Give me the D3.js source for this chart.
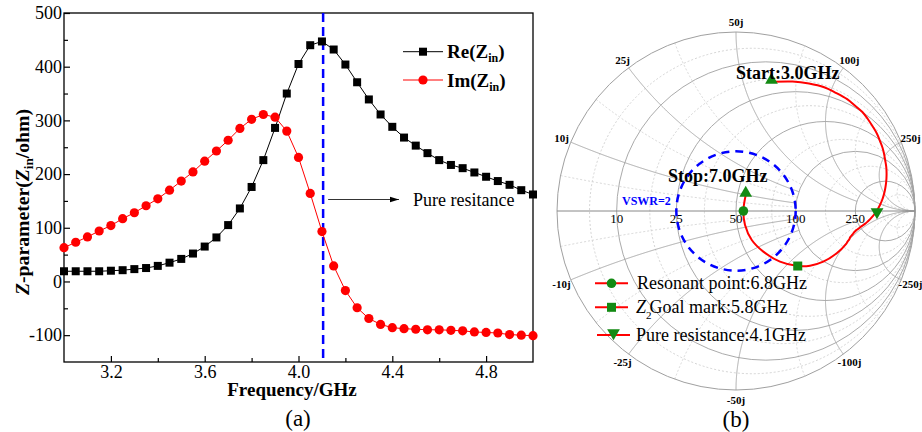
<!DOCTYPE html>
<html>
<head>
<meta charset="utf-8">
<script src="https://cdn.jsdelivr.net/npm/d3@7"></script>
<style>
  body { margin: 0; background: #fff; }
  svg { display: block; }
  svg text { font-family: "Liberation Serif", "Times New Roman", serif; }
</style>
</head>
<body>
<div id="main"></div>
<script>
// ---------------- data -----------------//

// (a) input impedance, 3.0 - 5.0 GHz in 0.05 GHz steps
let freq = d3.range(41).map(i => 3 + i * 0.05);
let reZ = [19, 19, 19, 19, 20, 21, 23, 25, 29, 35,
  42, 52, 65, 82, 105, 136, 176, 226, 286, 350,
  405, 440, 447, 432, 404, 371, 339, 311, 288, 268,
  253, 239, 226, 217, 211, 203, 195, 187, 180, 170, 162];
let imZ = [63, 73, 83, 94, 104, 117, 128, 141, 154, 170,
  187, 204, 224, 243, 263, 285, 302, 311, 306, 280,
  231, 164, 93, 29, -17, -49, -69, -80, -86, -88,
  -89, -90, -90, -91, -92, -94, -95, -96, -99, -100, -101];
let xTicks = [3.2, 3.6, 4.0, 4.4, 4.8];
let yTicks = [-100, 0, 100, 200, 300, 400, 500];
let pureFreq = 4.105;

// (b) smith chart trace continues past 5 GHz up to 7 GHz
let extFreq = [5.2, 5.4, 5.6, 5.8, 6.0, 6.2, 6.4, 6.6, 6.8, 7.0];
let extR = [127, 99.5, 84.1, 75.1, 66.2, 60.1, 56.3, 54.6, 54.3, 54.8];
let extX = [-95.6, -82.6, -69.9, -58.7, -43.6, -29.5, -18.9, -8.6, 0, 9.9];
let z0 = 50;
let gridMajor = [10, 25, 50, 100, 250];
let gridMinor = [5, 17.5, 35, 75, 150, 500];
let vswr = 2;

// markers on the smith trace
let markerName = ["start", "stop", "resonant", "goal", "pure"];
let markerR = [19, 54.8, 54.3, 75.1, 421];
let markerX = [62, 9.9, 0, -58.7, 0];

// ---------------- canvas -----------------//

let width = 922, height = 432;
let svg = d3.select("#main").append("svg")
  .attr("width", width)
  .attr("height", height);

svg.append("rect").attr("width", width).attr("height", height).attr("fill", "#fff");

// ---------------- (a) line chart -----------------//

let x = d3.scaleLinear().domain([3, 5]).range([64, 533]);
let y = d3.scaleLinear().domain([-150, 500]).range([362, 13]);

let left = svg.append("g");

// frame
left.append("rect")
  .attr("x", x(3)).attr("y", y(500))
  .attr("width", x(5) - x(3)).attr("height", y(-150) - y(500))
  .attr("fill", "none").attr("stroke", "#000").attr("stroke-width", 1.3);

// axes with inward ticks
let isMajorX = d => xTicks.some(t => Math.abs(t - d) < 1e-6);
let xAxis = d3.axisBottom(x).tickValues(d3.range(3.2, 5.0, 0.2)).tickSizeInner(-6).tickSizeOuter(0)
  .tickFormat(d => isMajorX(d) ? d3.format(".1f")(d) : "");
let gx = left.append("g").attr("transform", `translate(0,${y(-150)})`).call(xAxis);
gx.selectAll(".tick line").attr("y2", d => isMajorX(d) ? -6 : -4);

let yAxis = d3.axisLeft(y).tickValues(d3.range(-100, 501, 50)).tickSizeInner(-6).tickSizeOuter(0)
  .tickFormat(d => yTicks.includes(d) ? d : "");
let gy = left.append("g").attr("transform", `translate(${x(3)},0)`).call(yAxis);
gy.selectAll(".tick line").attr("x2", d => yTicks.includes(d) ? 6 : 4);

[gx, gy].forEach(function(g) {
  g.attr("font-family", null).attr("font-size", null);
  g.select(".domain").remove();
  g.selectAll(".tick line").attr("stroke", "#000").attr("stroke-width", 1.2);
  g.selectAll(".tick text").attr("font-size", 18).attr("fill", "#000");
});
gx.selectAll(".tick text").attr("y", 3).attr("dy", "0.71em");
gy.selectAll(".tick text").attr("x", -2);

// pure resistance marker line
left.append("line")
  .attr("x1", x(pureFreq)).attr("x2", x(pureFreq))
  .attr("y1", y(500)).attr("y2", y(-150))
  .attr("stroke", "#0000ff").attr("stroke-width", 2.5)
  .attr("stroke-dasharray", "9,5");

// series
let seriesLine = d3.line().x((d, i) => x(freq[i])).y(d => y(d));

left.append("path").datum(reZ)
  .attr("d", seriesLine).attr("fill", "none").attr("stroke", "#000").attr("stroke-width", 1);
left.append("path").datum(imZ)
  .attr("d", seriesLine).attr("fill", "none").attr("stroke", "#ff0000").attr("stroke-width", 1);

left.selectAll(".reDot").data(reZ).enter().append("rect")
  .attr("x", (d, i) => x(freq[i]) - 4)
  .attr("y", d => y(d) - 4)
  .attr("width", 8).attr("height", 8)
  .attr("fill", "#000");

left.selectAll(".imDot").data(imZ).enter().append("circle")
  .attr("cx", (d, i) => x(freq[i]))
  .attr("cy", d => y(d))
  .attr("r", 4.6)
  .attr("fill", "#ff0000");

// annotation arrow
svg.append("defs").append("marker")
  .attr("id", "arrow").attr("viewBox", "0 0 10 10")
  .attr("refX", 10).attr("refY", 5)
  .attr("markerWidth", 9).attr("markerHeight", 9)
  .attr("markerUnits", "userSpaceOnUse")
  .attr("orient", "auto")
  .append("path").attr("d", "M0,2 L10,5 L0,8 Z").attr("fill", "#000");

left.append("line")
  .attr("x1", x(pureFreq) + 5).attr("x2", 399)
  .attr("y1", 199.5).attr("y2", 199.5)
  .attr("stroke", "#000").attr("stroke-width", 0.8)
  .attr("marker-end", "url(#arrow)");
left.append("text")
  .attr("x", 413).attr("y", 206)
  .attr("font-size", 18)
  .text("Pure resitance");

// legend
let legendRows = [
  {label: "Re", color: "#000", y: 51.7, shape: "square"},
  {label: "Im", color: "#ff0000", y: 80, shape: "circle"}
];
legendRows.forEach(function(row) {
  left.append("line")
    .attr("x1", 403).attr("x2", 443).attr("y1", row.y).attr("y2", row.y)
    .attr("stroke", row.color).attr("stroke-width", 1);
  if (row.shape === "square") {
    left.append("rect").attr("x", 419).attr("y", row.y - 4).attr("width", 8).attr("height", 8).attr("fill", row.color);
  } else {
    left.append("circle").attr("cx", 423).attr("cy", row.y).attr("r", 4.6).attr("fill", row.color);
  }
  let t = left.append("text")
    .attr("x", 447).attr("y", row.y + 6.5)
    .attr("font-size", 19).attr("font-weight", "bold");
  t.append("tspan").text(row.label + "(Z");
  t.append("tspan").attr("font-size", 12).attr("dy", 4).text("in");
  t.append("tspan").attr("dy", -4).text(")");
});

// axis titles
let yTitle = left.append("text")
  .attr("transform", "translate(29,202) rotate(-90)")
  .attr("text-anchor", "middle")
  .attr("font-size", 18).attr("font-weight", "bold")
  .attr("textLength", 186).attr("lengthAdjust", "spacingAndGlyphs");
yTitle.append("tspan").attr("font-style", "italic").text("Z");
yTitle.append("tspan").text("-parameter(");
yTitle.append("tspan").attr("font-style", "italic").text("Z");
yTitle.append("tspan").attr("font-size", 12).attr("dy", 4).text("in");
yTitle.append("tspan").attr("dy", -4).text("/ohm)");

left.append("text")
  .attr("x", 292).attr("y", 396)
  .attr("text-anchor", "middle")
  .attr("font-size", 19).attr("font-weight", "bold")
  .text("Frequency/GHz");

left.append("text")
  .attr("x", 298).attr("y", 426)
  .attr("text-anchor", "middle")
  .attr("font-size", 23)
  .text("(a)");

// ---------------- (b) smith chart -----------------//

let cx = 736, cy = 211, rad = 179;
let sx = d3.scaleLinear().domain([-1, 1]).range([cx - rad, cx + rad]);
let sy = d3.scaleLinear().domain([-1, 1]).range([cy + rad, cy - rad]);

function gamma(r, xr) {
  let d = (r + 1) * (r + 1) + xr * xr;
  return [(r * r - 1 + xr * xr) / d, 2 * xr / d];
}

let smith = svg.append("g");
let smithLine = d3.line().x(d => sx(d[0])).y(d => sy(d[1]));

// reactance arc from r = 0 up to rMax
function reactanceArc(xr, rMax) {
  let pts = d3.range(0, 1, 0.002).map(t => t / (1 - t)).filter(r => r <= rMax);
  if (isFinite(rMax)) pts.push(rMax);
  let out = pts.map(r => gamma(r, xr));
  if (!isFinite(rMax)) out.push([1, 0]);
  return out;
}

function drawGrid(values, dotted) {
  let stroke = dotted ? "#cfcfcf" : "#a0a0a0";
  let dash = dotted ? "2,2" : null;
  values.forEach(function(v) {
    let r = v / z0;
    smith.append("circle")
      .attr("cx", sx(r / (1 + r))).attr("cy", cy)
      .attr("r", sx(1 / (1 + r)) - sx(0))
      .attr("fill", "none").attr("stroke", stroke).attr("stroke-width", 0.9)
      .attr("stroke-dasharray", dash);
    let rMax = r <= 0.7 ? 2 : (r <= 1.5 ? 5 : Infinity);
    [1, -1].forEach(function(s) {
      smith.append("path").datum(reactanceArc(s * r, rMax))
        .attr("d", smithLine)
        .attr("fill", "none").attr("stroke", stroke).attr("stroke-width", 0.9)
        .attr("stroke-dasharray", dash);
    });
  });
}

drawGrid(gridMinor, true);
drawGrid(gridMajor, false);

// outer circle and real axis
smith.append("circle")
  .attr("cx", cx).attr("cy", cy).attr("r", rad)
  .attr("fill", "none").attr("stroke", "#a0a0a0").attr("stroke-width", 1);
smith.append("line")
  .attr("x1", sx(-1)).attr("x2", sx(1)).attr("y1", cy).attr("y2", cy)
  .attr("stroke", "#888").attr("stroke-width", 1);

// grid labels
gridMajor.forEach(function(v) {
  let r = v / z0;
  smith.append("text")
    .attr("x", sx((r - 1) / (r + 1))).attr("y", cy + 12)
    .attr("text-anchor", "middle")
    .attr("font-size", 13)
    .text(v);
  [1, -1].forEach(function(s) {
    let g = gamma(0, s * r);
    let ang = Math.atan2(g[1], g[0]);
    smith.append("text")
      .attr("x", cx + (rad + 10) * Math.cos(ang))
      .attr("y", cy - (rad + 10) * Math.sin(ang))
      .attr("dy", "0.35em")
      .attr("text-anchor", "middle")
      .attr("font-size", 11).attr("font-weight", "bold")
      .text((s < 0 ? "-" : "") + v + "j");
  });
});

// VSWR = 2 circle
let vswrRadius = (vswr - 1) / (vswr + 1);
smith.append("circle")
  .attr("cx", cx).attr("cy", cy).attr("r", sx(vswrRadius) - sx(0))
  .attr("fill", "none").attr("stroke", "#0000ff").attr("stroke-width", 2.5)
  .attr("stroke-dasharray", "8,6");
smith.append("text")
  .attr("x", 622).attr("y", 205)
  .attr("font-size", 12).attr("font-weight", "bold").attr("fill", "#0000ff")
  .text("VSWR=" + vswr);

// trace
let traceR = reZ.concat(extR);
let traceX = imZ.concat(extX);
let trace = traceR.map((r, i) => gamma(r / z0, traceX[i] / z0));
smith.append("path").datum(trace)
  .attr("d", smithLine.curve(d3.curveCatmullRom))
  .attr("fill", "none").attr("stroke", "#ff0000").attr("stroke-width", 2);

let green = "#138a13";
let tri = d3.symbol().type(d3.symbolTriangle).size(70);

function drawMarker(g, name, px, py) {
  if (name === "start" || name === "stop") {
    g.append("path").attr("d", tri()).attr("transform", `translate(${px},${py - 2})`).attr("fill", green);
  } else if (name === "pure") {
    g.append("path").attr("d", tri()).attr("transform", `translate(${px},${py + 1}) rotate(180)`).attr("fill", green);
  } else if (name === "goal") {
    g.append("rect").attr("x", px - 4.5).attr("y", py - 4.5).attr("width", 9).attr("height", 9).attr("fill", green);
  } else {
    g.append("circle").attr("cx", px).attr("cy", py).attr("r", 4.8).attr("fill", green);
  }
}

markerName.forEach(function(name, i) {
  let g = gamma(markerR[i] / z0, markerX[i] / z0);
  drawMarker(smith, name, sx(g[0]), sy(g[1]));
});

smith.append("text")
  .attr("x", 736).attr("y", 79)
  .attr("font-size", 18).attr("font-weight", "bold")
  .text("Start:3.0GHz");
smith.append("text")
  .attr("x", 668).attr("y", 182)
  .attr("font-size", 18).attr("font-weight", "bold")
  .text("Stop:7.0GHz");

// smith legend
let smithLegend = [
  {name: "resonant", y: 283.3, x1: 595, x2: 628},
  {name: "goal", y: 307.3, x1: 595, x2: 628},
  {name: "pure", y: 335, x1: 597, x2: 630}
];
smithLegend.forEach(function(row) {
  smith.append("line")
    .attr("x1", row.x1).attr("x2", row.x2).attr("y1", row.y).attr("y2", row.y)
    .attr("stroke", "#ff0000").attr("stroke-width", 2);
  drawMarker(smith, row.name, (row.x1 + row.x2) / 2, row.y + (row.name === "pure" ? -3 : 0));
});

smith.append("text").attr("x", 637).attr("y", 289).attr("font-size", 18)
  .text("Resonant point:6.8GHz");
let goalText = smith.append("text").attr("x", 636).attr("y", 313).attr("font-size", 18);
goalText.append("tspan").attr("font-style", "italic").text("Z");
goalText.append("tspan").attr("font-size", 11).attr("dy", 6).text("2");
goalText.append("tspan").attr("dy", -6).attr("dx", -2).text("Goal mark:5.8GHz");
smith.append("text").attr("x", 636).attr("y", 341).attr("font-size", 18)
  .text("Pure resistance:4.1GHz");

smith.append("text")
  .attr("x", 736).attr("y", 427)
  .attr("text-anchor", "middle")
  .attr("font-size", 23)
  .text("(b)");
</script>
</body>
</html>
